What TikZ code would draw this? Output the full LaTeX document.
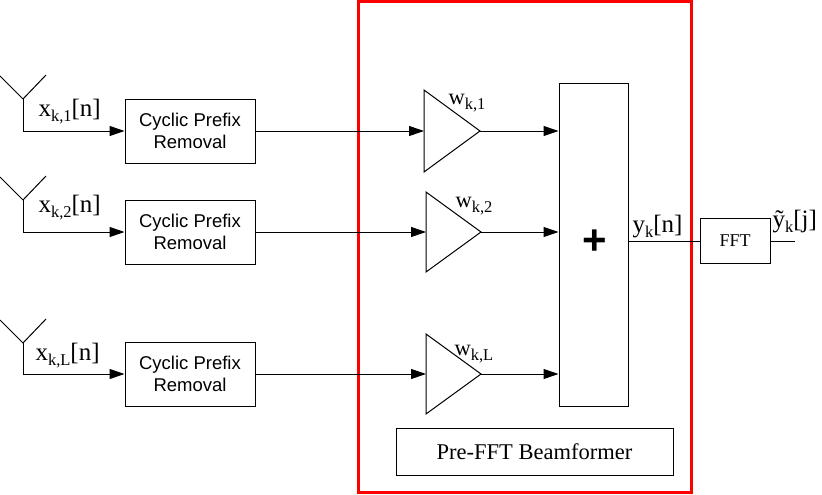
\documentclass[tikz,border=0pt]{standalone}
\usepackage{fontspec}
\setmainfont{Liberation Serif}
\newfontfamily\arialf{Liberation Sans}
\usetikzlibrary{arrows.meta}
\newcommand\mysub[1]{\raisebox{-5pt}{\fontsize{16.5}{16.5}\selectfont #1}}
\begin{document}
\begin{tikzpicture}[x=1pt,y=-1pt, line width=1pt,
  arr/.style={-{Triangle[length=15pt,width=10pt]}},
  cpbox/.style={draw, minimum width=130pt, minimum height=64pt, inner sep=0pt, align=center, font=\arialf\fontsize{18.5}{22}\selectfont},
  lbl/.style={font=\fontsize{25}{25}\selectfont, inner sep=0pt, anchor=base west},
  wlbl/.style={font=\fontsize{22.5}{22.5}\selectfont, inner sep=0pt, anchor=base west}]
\useasboundingbox[fill=white] (0,0) rectangle (822,495);
% red frame
\draw[red, line width=3pt] (358,2) rectangle (691,492);
% cyclic prefix boxes
\node[cpbox] (cp1) at (190,131) {Cyclic Prefix\\Removal};
\node[cpbox] (cp2) at (190,232) {Cyclic Prefix\\Removal};
\node[cpbox] (cpL) at (190,374) {Cyclic Prefix\\Removal};
% antennas
\coordinate (a1) at (23,99);
\coordinate (a2) at (23,200);
\coordinate (aL) at (23,343);
\draw (0,76) -- (a1) -- (46,75);
\draw (0,177) -- (a2) -- (46,176);
\draw (0,320) -- (aL) -- (46,319);
\draw[arr] (a1) |- (cp1.west);
\draw[arr] (a2) |- (cp2.west);
\draw[arr] (aL) |- (cpL.west);
\node[lbl] (lx1) at (38,117) {x\mysub{k,1}[n]};
\node[lbl] (lx2) at (38,212) {x\mysub{k,2}[n]};
\node[lbl] (lxL) at (35,360) {x\mysub{k,L}[n]};
% amplifier triangles
\coordinate (t1in) at (424,131);
\coordinate (t1out) at (480,131);
\coordinate (t2in) at (426,232);
\coordinate (t2out) at (481,232);
\coordinate (tLin) at (426,374);
\coordinate (tLout) at (481,374);
\draw (424,90) -- (t1out) -- (424,172) -- cycle;
\draw (426,192) -- (t2out) -- (426,272) -- cycle;
\draw (426,334) -- (tLout) -- (426,414) -- cycle;
\node[wlbl] (w1) at (448,104) {w\mysub{k,1}};
\node[wlbl] (w2) at (455,207) {w\mysub{k,2}};
\node[wlbl] (wL) at (454,355) {w\mysub{k,L}};
% sum box
\node[draw, minimum width=69pt, minimum height=322pt, inner sep=0pt] (sum) at (593.5,245) {};
\node[font=\arialf\bfseries\fontsize{42}{42}\selectfont, inner sep=0pt] (plus) at (595,242) {+};
% connections
\draw[arr] (cp1.east) -- (t1in);
\draw[arr] (cp2.east) -- (t2in);
\draw[arr] (cpL.east) -- (tLin);
\draw[arr] (t1out) -- (sum.west |- t1out);
\draw[arr] (t2out) -- (sum.west |- t2out);
\draw[arr] (tLout) -- (sum.west |- tLout);
% output
\node[draw, minimum width=70pt, minimum height=45pt, inner sep=0pt, font=\fontsize{18}{18}\selectfont] (fft) at (735,241) {FFT};
\coordinate (yout) at (795,241);
\draw (sum.east |- fft.west) -- (fft.west);
\draw (fft.east) -- (yout);
\node[lbl] (ly) at (632,232) {y\mysub{k}[n]};
\node[lbl] (lyt) at (772,227) {ỹ\mysub{k}[j]};
% beamformer label
\node[draw, minimum width=277pt, minimum height=47pt, inner sep=0pt, font=\fontsize{22.5}{22.5}\selectfont] (pfb) at (534.5,451.5) {Pre-FFT Beamformer};
\end{tikzpicture}
\end{document}
